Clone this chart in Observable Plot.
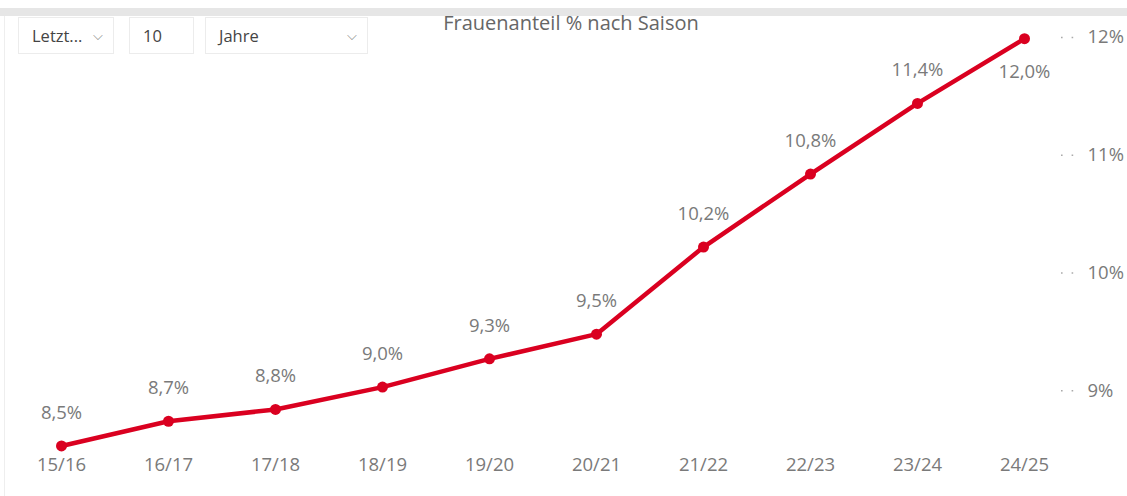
<!DOCTYPE html>
<html><head><meta charset="utf-8">
<script src="https://cdn.jsdelivr.net/npm/d3@7"></script>
<script src="https://cdn.jsdelivr.net/npm/@observablehq/plot@0.6"></script>
<style>
html,body{margin:0;padding:0;background:#fff;width:1127px;height:496px;overflow:hidden;font-family:"Open Sans",sans-serif;}
#wrap{position:relative;width:1127px;height:496px;}
#band{position:absolute;left:0;top:8px;width:1127px;height:8px;background:#e6e6e6;}
#vline{position:absolute;left:4px;top:16px;width:1px;height:480px;background:#eeeeee;}
.dd{position:absolute;top:17px;height:37px;border:1px solid #ececec;box-sizing:border-box;font-size:16.5px;color:#444;line-height:35px;padding-left:13px;background:#fff;}
.dd .chev{position:absolute;right:10px;top:0;color:#777;font-size:13px;}
#title{position:absolute;top:9px;left:0;width:1142px;text-align:center;font-size:20px;color:#666;}
#chart{position:absolute;left:0;top:0;}
</style></head>
<body><div id="wrap">
<div id="chart"></div>
<div id="band"></div>
<div id="vline"></div>
<div class="dd" style="left:18px;width:96px;">Letzt... <span class="chev">&#x2335;</span></div>
<div class="dd" style="left:129px;width:65px;">10</div>
<div class="dd" style="left:205px;width:163px;">Jahre <span class="chev">&#x2335;</span></div>
<div id="title">Frauenanteil % nach Saison</div>
</div>
<script>
const seasons = ["15/16","16/17","17/18","18/19","19/20","20/21","21/22","22/23","23/24","24/25"];
const share = [8.53, 8.74, 8.84, 9.03, 9.27, 9.48, 10.22, 10.84, 11.44, 11.99];
const yTicks = [9, 10, 11, 12];

const data = seasons.map((s, i) => ({season: s, value: share[i], last: i === seasons.length - 1}));
const fmt = v => v.toFixed(1).replace(".", ",") + "%";
const red = "#da0020";
const gray = "#7a7a7a";
const fs = 18.5;

const chart = Plot.plot({
  width: 1127,
  height: 496,
  marginTop: 37,
  marginBottom: 47,
  marginLeft: 58,
  marginRight: 100,
  style: {fontFamily: "Open Sans, sans-serif", fontSize: fs + "px", color: gray, background: "transparent"},
  x: {type: "point", domain: seasons, padding: 0},
  y: {domain: [8.5, 12]},
  marks: [
    Plot.axisX({tickSize: 0, tickPadding: 8, fill: gray, fontSize: fs, label: null}),
    Plot.axisY(yTicks, {anchor: "right", tickSize: 46, tickPadding: 14, stroke: "#aaaaaa",
      strokeDasharray: "0,33,1.6,9,1.6,100", strokeWidth: 1.5,
      tickFormat: d => d + "%", fill: gray, fontSize: fs, label: null}),
    Plot.line(data, {x: "season", y: "value", stroke: red, strokeWidth: 4.5}),
    Plot.dot(data, {x: "season", y: "value", r: 5.5, fill: red}),
    Plot.text(data.filter(d => !d.last), {x: "season", y: "value", text: d => fmt(d.value), dy: -33, fill: gray, fontSize: fs}),
    Plot.text(data.filter(d => d.last), {x: "season", y: "value", text: d => fmt(d.value), dy: 33, fill: gray, fontSize: fs})
  ]
});
document.getElementById("chart").appendChild(chart);
</script>
</body></html>
